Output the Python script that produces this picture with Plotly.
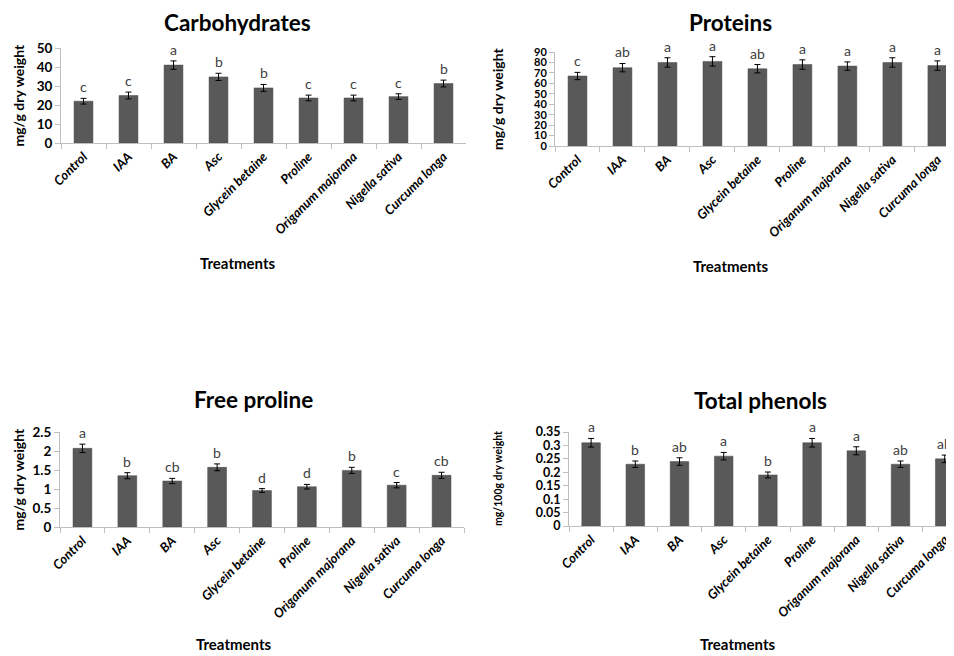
import plotly.graph_objects as go

OFF = 8  # page body margin
W, H = 954 - OFF, 656 - OFF

categories = ["Control", "IAA", "BA", "Asc", "Glycein betaine", "Proline",
              "Origanum majorana", "Nigella sativa", "Curcuma longa"]

carb_values = [22.0, 25.0, 41.0, 34.8, 29.0, 23.7, 23.7, 24.4, 31.3]
carb_errors = [1.5, 1.8, 2.2, 1.9, 1.8, 1.5, 1.5, 1.5, 1.8]
carb_letters = ["c", "c", "a", "b", "b", "c", "c", "c", "b"]

prot_values = [67.0, 75.0, 80.0, 81.0, 74.0, 78.0, 76.5, 80.0, 77.0]
prot_errors = [3.5, 4.0, 4.5, 4.5, 4.0, 4.5, 4.0, 4.5, 4.5]
prot_letters = ["c", "ab", "a", "a", "ab", "a", "a", "a", "a"]

prol_values = [2.07, 1.35, 1.21, 1.57, 0.96, 1.06, 1.49, 1.10, 1.36]
prol_errors = [0.11, 0.08, 0.07, 0.09, 0.05, 0.06, 0.08, 0.07, 0.08]
prol_letters = ["a", "b", "cb", "b", "d", "d", "b", "c", "cb"]

phen_values = [0.31, 0.23, 0.24, 0.26, 0.19, 0.31, 0.28, 0.23, 0.25]
phen_errors = [0.016, 0.012, 0.014, 0.014, 0.011, 0.016, 0.015, 0.012, 0.014]
phen_letters = ["a", "b", "ab", "a", "b", "a", "a", "ab", "ab"]

FONT = "Lato"
BAR = "#595959"
AXIS = "#bfbfbf"


def px(x):
    return (x - OFF) / W


def py(y):
    return 1 - (y - OFF) / H


panels = [
    dict(title="Carbohydrates", ytitle="mg/g dry weight", vals=carb_values, errs=carb_errors,
         letters=carb_letters, x0=61, x1=466, yb=143, yt=48, ymax=50, dtick=10, xend=8.5,
         tx=237, ty=8, ax=237, ay=263, yx=18, ysz=14, ytf=13.5),
    dict(title="Proteins", ytitle="mg/g dry weight", vals=prot_values, errs=prot_errors,
         letters=prot_letters, x0=555, x1=954, yb=146, yt=52, ymax=90, dtick=10, xend=8.37,
         tx=730, ty=8, ax=730, ay=266, yx=497, ysz=14, ytf=11),
    dict(title="Free proline", ytitle="mg/g dry weight", vals=prol_values, errs=prol_errors,
         letters=prol_letters, x0=60, x1=464, yb=527, yt=432, ymax=2.5, dtick=0.5, xend=8.5,
         tx=253, ty=385, ax=233, ay=644, yx=18, ysz=14, ytf=13.5),
    dict(title="Total phenols", ytitle="mg/100g dry weight", vals=phen_values, errs=phen_errors,
         letters=phen_letters, x0=569, x1=954, yb=526, yt=432, ymax=0.35, dtick=0.05, xend=8.21,
         tx=760, ty=386, ax=737, ay=644, yx=498, ysz=10.5, ytf=12.5),
]

fig = go.Figure()
annotations = []
for i, p in enumerate(panels):
    n = "" if i == 0 else str(i + 1)
    xa, ya = "x" + n, "y" + n
    fig.add_trace(go.Bar(
        x=categories, y=p["vals"], xaxis=xa, yaxis=ya,
        marker=dict(color=BAR, line=dict(color="#4a4a4a", width=0.5)),
        width=0.42,
        error_y=dict(type="data", array=p["errs"], color="#000000", thickness=1, width=3),
        showlegend=False, hoverinfo="skip",
    ))
    for c, v, e, l in zip(categories, p["vals"], p["errs"], p["letters"]):
        annotations.append(dict(x=c, y=v + e, xref=xa, yref=ya, text=l, showarrow=False,
                                yanchor="bottom", yshift=1,
                                font=dict(family=FONT, size=14, color="#404040")))
    layout_x = dict(domain=[px(p["x0"]), min(1.0, px(p["x1"]))], type="category",
                    automargin=False,
                    range=[-0.5, p["xend"]], anchor=ya, showline=True, linecolor=AXIS,
                    linewidth=1, ticks="outside", tickson="boundaries", ticklen=5,
                    tickcolor=AXIS, tickangle=-45, showgrid=False,
                    tickfont=dict(family=FONT, size=13, color="#000000",
                                  weight="bold", style="italic"))
    layout_y = dict(domain=[py(p["yb"]), py(p["yt"])], range=[0, p["ymax"]],
                    automargin=False,
                    dtick=p["dtick"], anchor=xa, showline=True, linecolor=AXIS, linewidth=1,
                    ticks="outside", ticklen=5, tickcolor=AXIS, showgrid=False, zeroline=False,
                    tickfont=dict(family=FONT, size=p["ytf"], color="#000000", weight="bold"))
    fig.update_layout(**{"xaxis" + n: layout_x, "yaxis" + n: layout_y})
    annotations.append(dict(x=px(p["tx"]), y=py(p["ty"]), xref="paper", yref="paper",
                            text="<b>%s</b>" % p["title"], showarrow=False, borderpad=0,
                            xanchor="center", yanchor="top",
                            font=dict(family=FONT, size=22.5, color="#000000")))
    annotations.append(dict(x=px(p["ax"]), y=py(p["ay"]), xref="paper", yref="paper",
                            text="<b>Treatments</b>", showarrow=False,
                            xanchor="center", yanchor="middle",
                            font=dict(family=FONT, size=15, color="#000000")))
    annotations.append(dict(x=px(p["yx"]), y=py((p["yb"] + p["yt"]) / 2),
                            xref="paper", yref="paper", text="<b>%s</b>" % p["ytitle"],
                            showarrow=False, textangle=-90, xanchor="center", yanchor="middle",
                            font=dict(family=FONT, size=p["ysz"], color="#000000")))

fig.update_layout(width=W, height=H, margin=dict(l=0, r=0, t=0, b=0, autoexpand=False),
                  paper_bgcolor="white", plot_bgcolor="white",
                  annotations=annotations, bargap=0.5)
fig.write_html("out.html")
